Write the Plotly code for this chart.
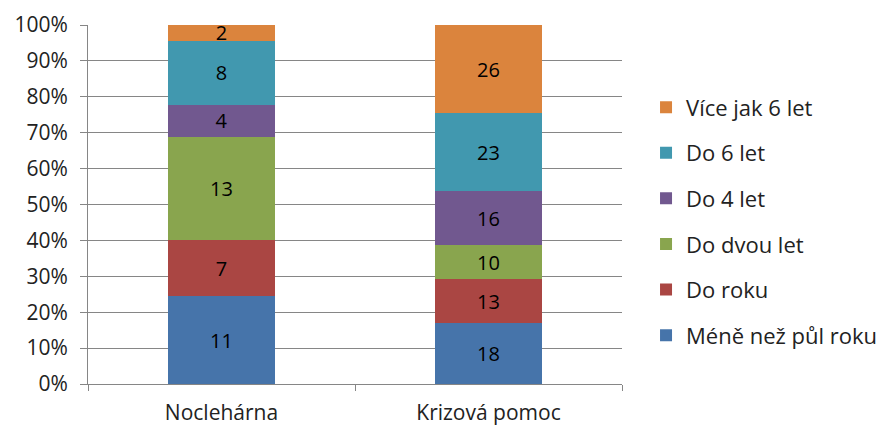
import plotly.graph_objects as go

categories = ["Noclehárna", "Krizová pomoc"]
series_names = ["Méně než půl roku", "Do roku", "Do dvou let", "Do 4 let", "Do 6 let", "Více jak 6 let"]
series_values = [
    [11, 18],
    [7, 13],
    [13, 10],
    [4, 16],
    [8, 23],
    [2, 26],
]
colors = ["#4674AA", "#AA4643", "#89A54E", "#71588F", "#4198AF", "#DB843D"]
y_ticks = [0, 10, 20, 30, 40, 50, 60, 70, 80, 90, 100]
y_tick_labels = [f"{t}%" for t in y_ticks]

FONT = "Open Sans"

fig = go.Figure()
n = len(series_names)
for i, (name, vals, col) in enumerate(zip(series_names, series_values, colors)):
    fig.add_trace(go.Bar(
        x=categories, y=vals, name=name, marker=dict(color=col, line=dict(width=0)),
        text=[str(v) for v in vals], textposition="inside", insidetextanchor="middle",
        textangle=0, textfont=dict(family=FONT, size=20, color="black"),
        legendgroup=name, legendrank=n - i, hoverinfo="skip",
    ))

fig.update_layout(
    width=877, height=429,
    barmode="stack", barnorm="percent", bargap=0.6,
    plot_bgcolor="white", paper_bgcolor="white",
    margin=dict(l=88, r=255, t=25, b=45, autoexpand=False),
    font=dict(family=FONT, size=20, color="#222"),
    uniformtext=dict(minsize=20, mode="show"),
    legend=dict(
        x=1.045, y=0.453, xanchor="left", yanchor="middle",
        traceorder="grouped", tracegroupgap=14,
        font=dict(family=FONT, size=22, color="#222"),
        itemwidth=30,
    ),
    showlegend=True,
)
fig.update_yaxes(
    range=[0, 100], tickvals=y_ticks, ticktext=y_tick_labels,
    showgrid=True, gridcolor="#868686", gridwidth=1,
    showline=True, linecolor="#868686", linewidth=1,
    ticks="outside", ticklen=7, tickcolor="#868686",
    ticklabelstandoff=8, zeroline=False,
    tickfont=dict(family=FONT, size=21, color="#222"),
)
fig.update_xaxes(
    showline=True, linecolor="#868686", linewidth=1,
    ticks="outside", ticklen=6, tickcolor="#868686", tickson="boundaries",
    ticklabelstandoff=10,
    tickfont=dict(family=FONT, size=21, color="#222"),
)

fig.write_html("out.html", config={"displayModeBar": False},
               post_script="document.body.style.margin='0';")
